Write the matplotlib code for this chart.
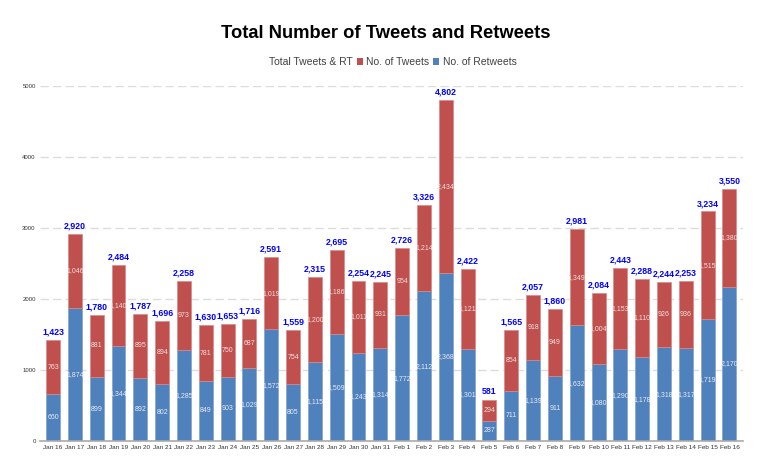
import matplotlib.pyplot as plt
from matplotlib.patches import Patch
import numpy as np

days = ["Jan 16", "Jan 17", "Jan 18", "Jan 19", "Jan 20", "Jan 21", "Jan 22", "Jan 23",
        "Jan 24", "Jan 25", "Jan 26", "Jan 27", "Jan 28", "Jan 29", "Jan 30", "Jan 31",
        "Feb 1", "Feb 2", "Feb 3", "Feb 4", "Feb 5", "Feb 6", "Feb 7", "Feb 8",
        "Feb 9", "Feb 10", "Feb 11", "Feb 12", "Feb 13", "Feb 14", "Feb 15", "Feb 16"]
retweets = [660, 1874, 899, 1344, 892, 802, 1285, 849, 903, 1029, 1572, 805, 1115, 1509,
            1243, 1314, 1772, 2112, 2368, 1301, 287, 711, 1139, 911, 1632, 1080, 1290,
            1178, 1318, 1317, 1719, 2170]
tweets = [763, 1046, 881, 1140, 895, 894, 973, 781, 750, 687, 1019, 754, 1200, 1186,
          1011, 931, 954, 1214, 2434, 1121, 294, 854, 918, 949, 1349, 1004, 1153,
          1110, 926, 936, 1515, 1380]
totals = [r + t for r, t in zip(retweets, tweets)]
yticks = [0, 1000, 2000, 3000, 4000, 5000]

RED = "#C0504D"
BLUE = "#4F81BD"
plt.rcParams["font.family"] = ["Liberation Sans", "DejaVu Sans"]

fig = plt.figure(figsize=(7.68, 4.75), dpi=100)
ax = fig.add_axes([0.052, 0.0716, 0.916, 0.747])

x = np.arange(len(days))
w = 0.64
ax.bar(x, retweets, w, color=BLUE, edgecolor="#7fa3d1", linewidth=0.5, zorder=2)
ax.bar(x, tweets, w, bottom=retweets, color=RED, edgecolor="#d98a88", linewidth=0.5, zorder=2)

# segment labels + totals
for i in range(len(days)):
    ax.text(x[i], retweets[i] / 2, f"{retweets[i]:,}", ha="center", va="center",
            fontsize=5, color="#e6ecf5", zorder=3)
    ax.text(x[i], retweets[i] + tweets[i] / 2, f"{tweets[i]:,}", ha="center", va="center",
            fontsize=5, color="#f3dede", zorder=3)
    ax.annotate(f"{totals[i]:,}", (x[i], totals[i]), xytext=(0, 2.5), textcoords="offset points",
                ha="center", va="bottom", fontsize=6.3, fontweight="bold", color="#0000FF",
                zorder=3, annotation_clip=False)

ax.set_xlim(-0.6, len(days) - 0.36)
ax.set_ylim(0, 5000)
ax.set_xticks(x)
ax.set_xticklabels(days, fontsize=4.6, color="#333333")
ax.set_yticks(yticks)
ax.set_yticklabels([str(v) for v in yticks], fontsize=4.3, color="#333333")
ax.tick_params(length=0, pad=3)
ax.grid(axis="y", color="#dcdcdc", linestyle=(0, (6, 3)), linewidth=1, zorder=0)
for s in ["top", "right", "left"]:
    ax.spines[s].set_visible(False)
ax.spines["bottom"].set_color("#aaaaaa")
ax.spines["bottom"].set_linewidth(1.2)
ax.spines["bottom"].set_zorder(3)

fig.text(0.502, 0.93, "Total Number of Tweets and Retweets", ha="center", va="center",
         fontsize=13.2, fontweight="bold")

handles = [Patch(facecolor="none", edgecolor="none"),
           Patch(facecolor=RED), Patch(facecolor=BLUE)]
fig.legend(handles, ["Total Tweets & RT", "No. of Tweets", "No. of Retweets"],
           loc="center", bbox_to_anchor=(0.505, 0.869), ncol=3, frameon=False,
           handlelength=0.6, handleheight=0.6, handletextpad=0.3, columnspacing=0.4,
           fontsize=7.5, labelcolor="#404040")

fig.savefig("out.png", dpi=100)
